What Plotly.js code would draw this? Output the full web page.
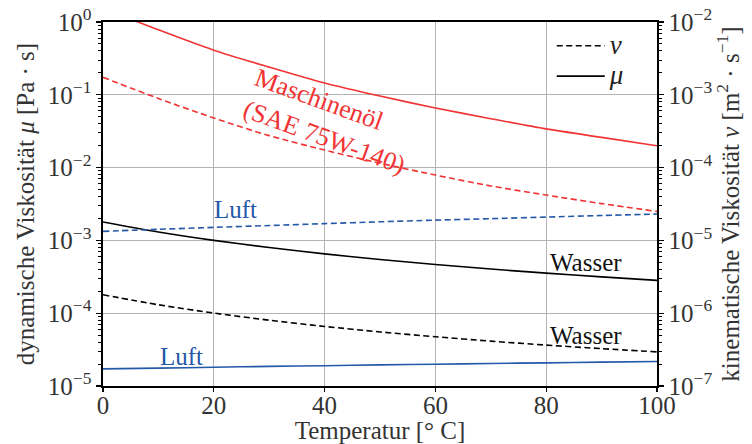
<!DOCTYPE html>
<html>
<head>
<meta charset="utf-8">
<script src="https://cdn.plot.ly/plotly-3.0.1.min.js"></script>
<style>html,body{margin:0;padding:0;background:#fff;}#chart{width:752px;height:444px;}</style>
</head>
<body>
<div id="chart"></div>
<script>
// Temperature [°C]
const temperature = [0, 10, 20, 30, 40, 50, 60, 70, 80, 90, 100];

// dynamic viscosity mu [Pa s]
const muOil   = [1.55, 0.78, 0.41, 0.24, 0.145, 0.096, 0.066, 0.047, 0.034, 0.026, 0.020];
const muWater = [1.792e-3, 1.307e-3, 1.002e-3, 0.798e-3, 0.653e-3, 0.547e-3, 0.467e-3, 0.404e-3, 0.355e-3, 0.315e-3, 0.282e-3];
const muAir   = [1.72e-5, 1.76e-5, 1.81e-5, 1.86e-5, 1.90e-5, 1.95e-5, 1.99e-5, 2.04e-5, 2.08e-5, 2.13e-5, 2.17e-5];

// kinematic viscosity nu [m^2/s]
const nuOil   = [1.74e-3, 8.9e-4, 4.8e-4, 2.75e-4, 1.74e-4, 1.15e-4, 7.9e-5, 5.6e-5, 4.2e-5, 3.2e-5, 2.5e-5];
const nuWater = [1.792e-6, 1.307e-6, 1.004e-6, 0.801e-6, 0.658e-6, 0.553e-6, 0.475e-6, 0.413e-6, 0.365e-6, 0.326e-6, 0.294e-6];
const nuAir   = [1.33e-5, 1.42e-5, 1.51e-5, 1.60e-5, 1.70e-5, 1.80e-5, 1.90e-5, 1.99e-5, 2.09e-5, 2.20e-5, 2.30e-5];

const xTicks = [0, 20, 40, 60, 80, 100];
const yLeftTickVals = [1e-5, 1e-4, 1e-3, 1e-2, 1e-1, 1];
const yLeftTickText = ['10<sup>−5</sup>', '10<sup>−4</sup>', '10<sup>−3</sup>', '10<sup>−2</sup>', '10<sup>−1</sup>', '10<sup>0</sup>'];
const yRightTickVals = [1e-7, 1e-6, 1e-5, 1e-4, 1e-3, 1e-2];
const yRightTickText = ['10<sup>−7</sup>', '10<sup>−6</sup>', '10<sup>−5</sup>', '10<sup>−4</sup>', '10<sup>−3</sup>', '10<sup>−2</sup>'];

const RED = '#f03434';
const BLUE = '#2458a8';
const BLACK = '#000000';
const LW = 1.6;
const DASH = '6px,3.5px';
const FONT = 'Liberation Serif, Times New Roman, serif';

function line(y, color, dashed) {
  return {
    x: temperature, y: y, type: 'scatter', mode: 'lines',
    yaxis: dashed ? 'y2' : 'y',
    line: {color: color, width: LW, dash: dashed ? DASH : 'solid', shape: 'spline', smoothing: 0.8},
    showlegend: false, hoverinfo: 'skip'
  };
}

const data = [
  line(muOil, RED, false),
  line(muWater, BLACK, false),
  line(muAir, BLUE, false),
  line(nuOil, RED, true),
  line(nuWater, BLACK, true),
  line(nuAir, BLUE, true),
  {x: [null], y: [null], type: 'scatter', mode: 'lines', name: '<span style="font-size:27px"><i>ν</i></span>',
   line: {color: BLACK, width: LW, dash: DASH}, showlegend: true},
  {x: [null], y: [null], type: 'scatter', mode: 'lines', name: '<span style="font-size:27px"><i>μ</i></span>',
   line: {color: BLACK, width: LW}, showlegend: true}
];

const layout = {
  width: 752, height: 444,
  margin: {l: 103, r: 95, t: 22, b: 58},
  paper_bgcolor: '#fff', plot_bgcolor: '#fff',
  font: {family: FONT, size: 25, color: '#333'},
  showlegend: true,
  legend: {x: 0.81, y: 0.99, xanchor: 'left', yanchor: 'top', bgcolor: 'rgba(0,0,0,0)',
           itemwidth: 48,
           font: {family: FONT, size: 21, color: '#222'}, tracegroupgap: 0},
  xaxis: {
    range: [0, 100], tickvals: xTicks, ticks: 'outside', ticklen: 4, tickwidth: 1.3, tickcolor: '#000',
    showline: true, linecolor: '#000', linewidth: 1.6, mirror: true,
    showgrid: true, gridcolor: '#b4b4b4', gridwidth: 1.3, zeroline: false,
    ticklabelstandoff: -8,
    tickfont: {family: FONT, size: 25, color: '#333'},
    title: {text: 'Temperatur [° C]', font: {family: FONT, size: 25, color: '#333'}, standoff: 8}
  },
  yaxis: {
    type: 'log', range: [-5, 0], tickvals: yLeftTickVals, ticktext: yLeftTickText,
    ticks: 'outside', ticklen: 5, tickwidth: 1.3, tickcolor: '#000',
    minor: {ticks: 'outside', ticklen: 3, tickwidth: 1, tickcolor: '#000', dtick: 'D1', showgrid: false},
    showline: true, linecolor: '#000', linewidth: 1.6,
    showgrid: true, gridcolor: '#b4b4b4', gridwidth: 1.3, zeroline: false,
    tickfont: {family: FONT, size: 25, color: '#333'},
    title: {text: 'dynamische Viskosität <i>μ</i> [Pa · s]', font: {family: FONT, size: 25, color: '#333'}, standoff: 6}
  },
  yaxis2: {
    type: 'log', range: [-7, -2], overlaying: 'y', side: 'right',
    tickvals: yRightTickVals, ticktext: yRightTickText,
    ticks: 'outside', ticklen: 5, tickwidth: 1.3, tickcolor: '#000',
    minor: {ticks: 'outside', ticklen: 3, tickwidth: 1, tickcolor: '#000', dtick: 'D1', showgrid: false},
    showline: true, linecolor: '#000', linewidth: 1.6,
    showgrid: false, zeroline: false,
    tickfont: {family: FONT, size: 25, color: '#333'},
    title: {text: 'kinematische Viskosität <i>ν</i> [m<sup>2</sup> · s<sup>−1</sup>]', font: {family: FONT, size: 25, color: '#333'}, standoff: 8}
  },
  annotations: [
    {x: 41.0, y: -1.37, xref: 'x', yref: 'y', text: 'Maschinenöl<br>(SAE 75W-140)', showarrow: false,
     textangle: 20, align: 'left', font: {family: FONT, size: 26, color: RED}},
    {x: 24.0, y: -2.57, xref: 'x', yref: 'y', text: 'Luft', showarrow: false,
     font: {family: FONT, size: 25, color: BLUE}},
    {x: 14.1, y: -4.60, xref: 'x', yref: 'y', text: 'Luft', showarrow: false,
     font: {family: FONT, size: 25, color: BLUE}},
    {x: 87.2, y: -3.31, xref: 'x', yref: 'y', text: 'Wasser', showarrow: false,
     font: {family: FONT, size: 25, color: '#111'}},
    {x: 87.2, y: -4.30, xref: 'x', yref: 'y', text: 'Wasser', showarrow: false,
     font: {family: FONT, size: 25, color: '#111'}}
  ]
};

Plotly.newPlot('chart', data, layout, {staticPlot: true, displayModeBar: false});
</script>
</body>
</html>
